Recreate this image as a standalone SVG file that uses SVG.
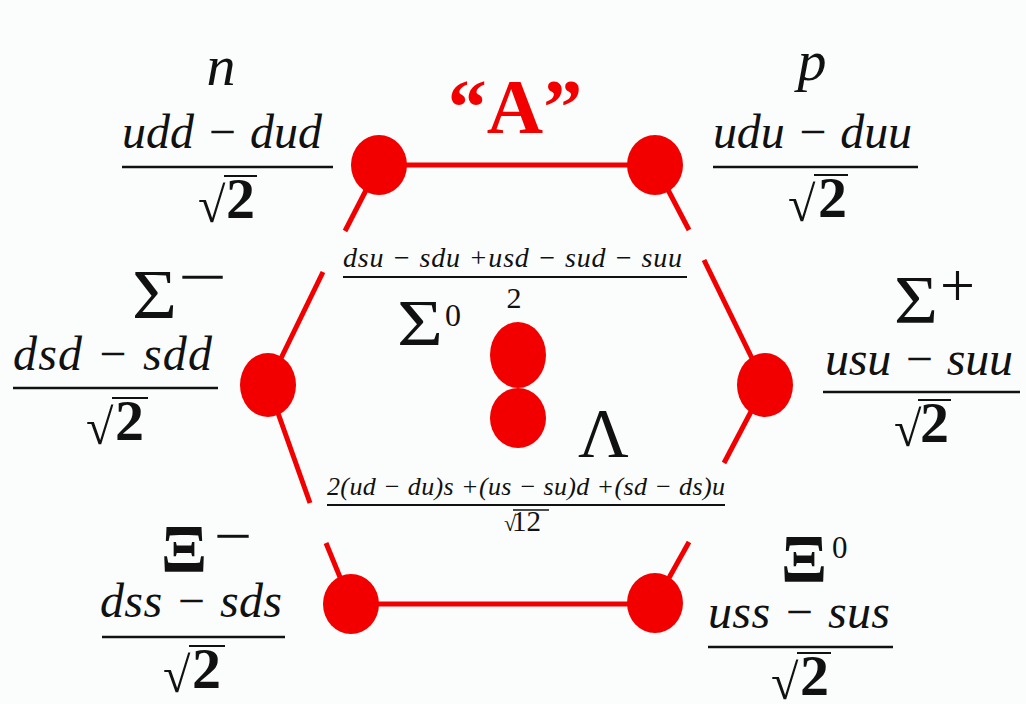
<svg xmlns="http://www.w3.org/2000/svg" width="1026" height="704" viewBox="0 0 1026 704">
<style>
.dot{fill:#f20000}
.edge{stroke:#f20000;stroke-width:5;fill:none}
.mi{font-family:"Liberation Serif",serif;font-style:italic;fill:#111}
.up{font-family:"Liberation Serif",serif;fill:#111}
.bar{stroke:#111;stroke-width:2.5}
.two{font-family:"Liberation Serif",serif;font-weight:bold;font-size:58px;fill:#111}
.rad{font-family:"Liberation Serif","DejaVu Serif",serif;font-size:50px;fill:#111}
.vin{stroke:#111;stroke-width:2.2}
</style>
<rect width="1026" height="704" fill="#fbfdfd"/>
<g id="connectors">
<line class="edge" x1="379" y1="165" x2="655" y2="165"/>
<line class="edge" x1="351" y1="604" x2="655" y2="604"/>
<line class="edge" x1="379" y1="165" x2="345" y2="231"/>
<line class="edge" x1="323" y1="272" x2="268" y2="385"/>
<line class="edge" x1="655" y1="165" x2="689" y2="230"/>
<line class="edge" x1="704" y1="260" x2="765" y2="385"/>
<line class="edge" x1="268" y1="385" x2="310" y2="503"/>
<line class="edge" x1="326" y1="543" x2="351" y2="604"/>
<line class="edge" x1="765" y1="385" x2="724" y2="463"/>
<line class="edge" x1="689" y1="542" x2="655" y2="603"/>
</g>
<text id="label-A" x="515" y="133" text-anchor="middle" font-family="Liberation Serif, serif" font-weight="bold" font-size="78" fill="#f20000">“A”</text>
<g id="node-n">
<ellipse class="dot" cx="379" cy="165" rx="28" ry="30"/>
<text class="mi" x="221" y="85" font-size="58" text-anchor="middle">n</text>
<text class="mi" x="122" y="148" font-size="48" textLength="200">udd − dud</text>
<line class="bar" x1="122" y1="167" x2="333" y2="167"/>
<text class="rad" x="198" y="222">√</text>
<line class="vin" x1="224" y1="176" x2="257" y2="176"/>
<text class="two" x="226" y="218">2</text>
</g>
<g id="node-p">
<ellipse class="dot" cx="655" cy="165" rx="28" ry="30"/>
<text class="mi" x="812" y="80" font-size="58" text-anchor="middle">p</text>
<text class="mi" x="713" y="148" font-size="48" textLength="199">udu − duu</text>
<line class="bar" x1="713" y1="167" x2="918" y2="167"/>
<text class="rad" x="788" y="221">√</text>
<line class="vin" x1="814" y1="175" x2="848" y2="175"/>
<text class="two" x="818" y="217">2</text>
</g>
<g id="node-sigma-minus">
<ellipse class="dot" cx="268" cy="385" rx="28" ry="32"/>
<text class="up" x="132" y="318" font-size="70" textLength="45" lengthAdjust="spacingAndGlyphs">Σ</text>
<text class="up" x="178" y="297" font-size="60" textLength="49" lengthAdjust="spacingAndGlyphs">−</text>
<text class="mi" x="13" y="370" font-size="48" textLength="199">dsd − sdd</text>
<line class="bar" x1="13" y1="388" x2="218" y2="388"/>
<text class="rad" x="86" y="444">√</text>
<line class="vin" x1="112" y1="398" x2="148" y2="398"/>
<text class="two" x="115" y="440">2</text>
</g>
<g id="node-sigma-plus">
<ellipse class="dot" cx="765" cy="385" rx="28" ry="32"/>
<text class="up" x="894" y="322" font-size="68" textLength="44" lengthAdjust="spacingAndGlyphs">Σ</text>
<text class="up" x="940" y="306" font-size="62">+</text>
<text class="mi" x="825" y="375" font-size="48" textLength="188">usu − suu</text>
<line class="bar" x1="823" y1="392" x2="1020" y2="392"/>
<text class="rad" x="894" y="446">√</text>
<line class="vin" x1="918" y1="400" x2="951" y2="400"/>
<text class="two" x="920" y="442">2</text>
</g>
<g id="node-sigma0">
<ellipse class="dot" cx="518" cy="355" rx="28" ry="33"/>
<text class="mi" x="343" y="267" font-size="28" textLength="339">dsu − sdu +usd − sud − suu</text>
<line class="bar" x1="343" y1="277" x2="687" y2="277" style="stroke-width:2"/>
<text class="up" x="514" y="308" font-size="30" text-anchor="middle">2</text>
<text class="up" x="397" y="345" font-size="66" textLength="46" lengthAdjust="spacingAndGlyphs">Σ</text>
<text class="up" x="445" y="326" font-size="32">0</text>
</g>
<g id="node-lambda">
<ellipse class="dot" cx="518" cy="418" rx="28" ry="30"/>
<text class="up" x="578" y="457" font-size="70">Λ</text>
<text class="mi" x="327" y="495" font-size="26" textLength="398">2(ud − du)s +(us − su)d +(sd − ds)u</text>
<line class="bar" x1="327" y1="505" x2="725" y2="505" style="stroke-width:2"/>
<text class="up" x="504" y="531" font-size="22">√</text>
<line class="vin" x1="513" y1="510" x2="549" y2="510" style="stroke-width:1.5"/>
<text class="up" x="512" y="531" font-size="29">12</text>
</g>
<g id="node-xi-minus">
<ellipse class="dot" cx="351" cy="604" rx="28" ry="30"/>
<text class="up" x="161" y="571" font-size="68" font-weight="bold" textLength="46" lengthAdjust="spacingAndGlyphs">Ξ</text>
<text class="up" x="214" y="556" font-size="60" textLength="38" lengthAdjust="spacingAndGlyphs">−</text>
<text class="mi" x="100" y="617" font-size="48" textLength="182">dss − sds</text>
<line class="bar" x1="102" y1="637" x2="285" y2="637"/>
<text class="rad" x="163" y="692">√</text>
<line class="vin" x1="189" y1="646" x2="225" y2="646"/>
<text class="two" x="192" y="688">2</text>
</g>
<g id="node-xi0">
<ellipse class="dot" cx="655" cy="603" rx="28" ry="30"/>
<text class="up" x="781" y="581" font-size="68" font-weight="bold" textLength="46" lengthAdjust="spacingAndGlyphs">Ξ</text>
<text class="up" x="832" y="558" font-size="31">0</text>
<text class="mi" x="708" y="628" font-size="48" textLength="182">uss − sus</text>
<line class="bar" x1="708" y1="647" x2="893" y2="647"/>
<text class="rad" x="771" y="699">√</text>
<line class="vin" x1="797" y1="653" x2="831" y2="653"/>
<text class="two" x="800" y="695">2</text>
</g>
</svg>
